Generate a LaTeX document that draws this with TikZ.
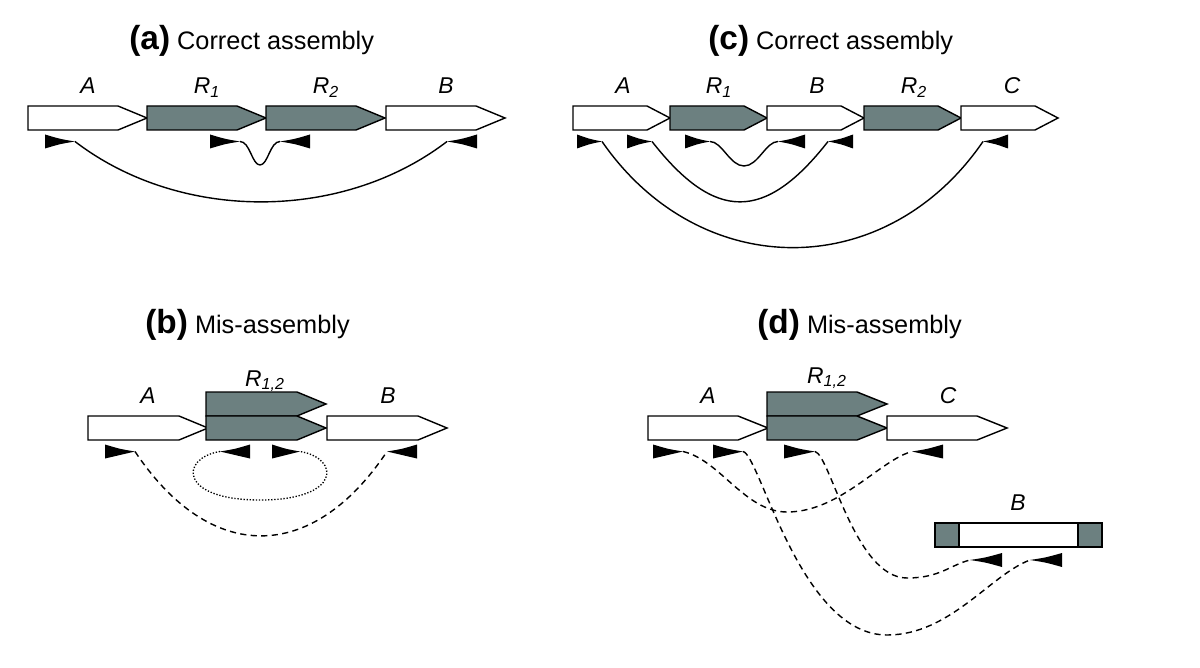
\documentclass[tikz,border=0pt]{standalone}
\usepackage{fontspec}
\setmainfont{Liberation Sans}
\definecolor{repgray}{RGB}{108,128,128}
\begin{document}
\begin{tikzpicture}[x=0.2mm,y=-0.2mm,line join=miter,
  gene/.style={draw,fill=white,line width=0.8pt},
  primer/.style={fill=black},
  pairlink/.style={line width=0.8pt},
  mislink/.style={pairlink,dash pattern=on 3.5pt off 2.5pt},
  selflink/.style={line width=0.75pt,densely dotted},
  lab/.style={anchor=base,font=\fontsize{13}{15}\selectfont\itshape},
  ttl/.style={anchor=base west,inner sep=0pt,font=\fontsize{14.4}{17}\selectfont}]
\useasboundingbox (0,0) rectangle (1200,668);
% titles
\node[ttl] (ta) at (129,50) {{\bfseries\fontsize{19}{21}\selectfont (a)} Correct assembly};
\node[ttl] (tc) at (708,50) {{\bfseries\fontsize{19}{21}\selectfont (c)} Correct assembly};
\node[ttl] (tb) at (145,333) {{\bfseries\fontsize{19}{21}\selectfont (b)} Mis-assembly};
\node[ttl] (td) at (757,333) {{\bfseries\fontsize{19}{21}\selectfont (d)} Mis-assembly};
% (a) contigs
\foreach \x/\c in {28/white,147/repgray,266/repgray,386/white}
  \draw[gene,fill=\c] (\x,106) -- ++(90,0) -- ++(29,12) -- ++(-29,12) -- ++(-90,0) -- cycle;
\node[lab] (aA) at (88,94) {A};
\node[lab] (aR1) at (207,94) {R\textsubscript{1}};
\node[lab] (aR2) at (326,94) {R\textsubscript{2}};
\node[lab] (aB) at (446,94) {B};
% (c) contigs
\foreach \x/\c in {573/white,670/repgray,767/white,864/repgray,961/white}
  \draw[gene,fill=\c] (\x,106) -- ++(74,0) -- ++(23,12) -- ++(-23,12) -- ++(-74,0) -- cycle;
\node[lab] (cA) at (623,94) {A};
\node[lab] (cR1) at (719,94) {R\textsubscript{1}};
\node[lab] (cB) at (817,94) {B};
\node[lab] (cR2) at (914,94) {R\textsubscript{2}};
\node[lab] (cC) at (1012,94) {C};
% (b) contigs
\foreach \x/\y/\c in {88/416/white,206/392/repgray,206/416/repgray,327/416/white}
  \draw[gene,fill=\c] (\x,\y) -- ++(91,0) -- ++(29,12) -- ++(-29,12) -- ++(-91,0) -- cycle;
\node[lab] (bA) at (148,403) {A};
\node[lab] (bR) at (265,386) {R\textsubscript{1,2}};
\node[lab] (bB) at (388,403) {B};
% (d) contigs
\foreach \x/\y/\c in {648/416/white,767/392/repgray,767/416/repgray,887/416/white}
  \draw[gene,fill=\c] (\x,\y) -- ++(90,0) -- ++(30,12) -- ++(-30,12) -- ++(-90,0) -- cycle;
\draw[gene] (935,523) rectangle (1102,547);
\draw[gene,fill=repgray] (935,523) rectangle (959,547);
\draw[gene,fill=repgray] (1078,523) rectangle (1102,547);
\node[lab] (dA) at (708,403) {A};
\node[lab] (dR) at (827,383) {R\textsubscript{1,2}};
\node[lab] (dC) at (948,403) {C};
\node[lab] (dB) at (1018,510) {B};
% primers: name / tip x / y / base x
\foreach \n/\x/\y/\b in {pa1/75/141.5/45, pa2/240/141.5/210, pa3/280/141.5/310, pa4/447/141.5/477,
    pc1/602/141.5/577, pc2/652/141.5/627, pc3/710/141.5/685, pc4/778/141.5/805, pc5/828/141.5/853, pc6/983/141.5/1008,
    pb1/135/451.5/105, pb2/220/451.5/250, pb3/300/451.5/272, pb4/387/451.5/417,
    pd1/683/451.5/653, pd2/743/451.5/713, pd3/815/451.5/784, pd4/912/451.5/943, pd5/970/560/1002, pd6/1030/560/1062}{
  \fill[primer] (\x,\y) .. controls ({(\x+\b)/2},\y-2.5) .. (\b,\y-7) -- (\b,\y+7) .. controls ({(\x+\b)/2},\y+2.5) .. (\x,\y) -- cycle;
  \coordinate (\n) at (\x,\y);
}
% (a) pairs
\draw[pairlink] (pa1) .. controls (180,222) and (342,222) .. (pa4);
\draw[pairlink] (pa2) .. controls (250,141.5) and (252,165) .. (260,165) .. controls (268,165) and (270,141.5) .. (pa3);
% (c) pairs
\draw[pairlink] (pc3) .. controls (722,141.5) and (730,166) .. (744,166) .. controls (758,166) and (766,141.5) .. (pc4);
\draw[pairlink] (pc2) .. controls (715,222) and (765,222) .. (pc5);
\draw[pairlink] (pc1) .. controls (700,283) and (886,283) .. (pc6);
% (b) pairs
\draw[mislink] (pb1) .. controls (210,564) and (312,564) .. (pb4);
\draw[selflink] (pb2) .. controls (180,458) and (178,500) .. (260,500) .. controls (342,500) and (340,458) .. (pb3);
% (d) pairs
\draw[mislink] (pd1) .. controls (720,460) and (745,512) .. (787,512) .. controls (840,512) and (880,460) .. (pd4);
\draw[mislink] (pd2) .. controls (760,455) and (800,635) .. (887,635) .. controls (950,635) and (990,575) .. (pd6);
\draw[mislink] (pd3) .. controls (830,455) and (855,578) .. (907,578) .. controls (940,578) and (950,565) .. (pd5);
\end{tikzpicture}
\end{document}
